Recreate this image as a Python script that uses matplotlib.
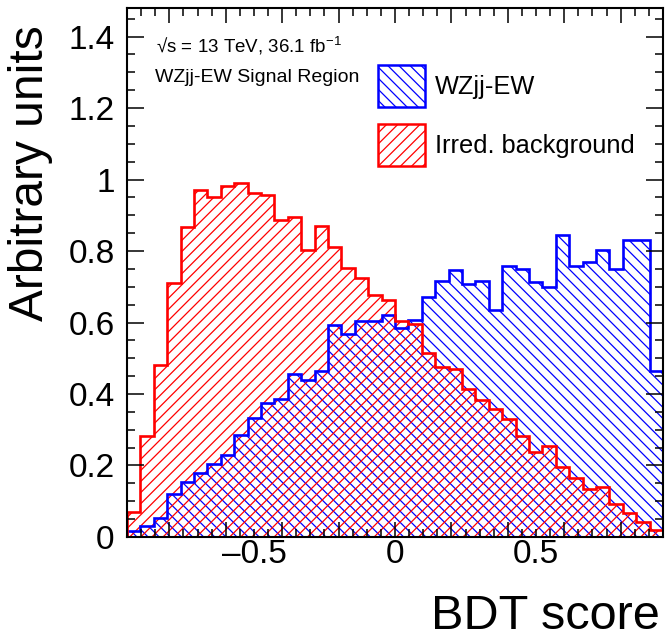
# WZjj-EW vs irreducible background, BDT score shapes (ROOT-style hatched histos)

import matplotlib
matplotlib.use("Agg")
import matplotlib.pyplot as plt
import numpy as np
from matplotlib.patches import Patch
from matplotlib.ticker import MultipleLocator, FuncFormatter

plt.rcParams["font.family"] = ["Liberation Sans", "DejaVu Sans"]
plt.rcParams["mathtext.fontset"] = "custom"
plt.rcParams["mathtext.rm"] = "Liberation Sans"
plt.rcParams["mathtext.it"] = "Liberation Sans:italic"
plt.rcParams["hatch.linewidth"] = 0.9

# binning: 40 bins over the BDT range
x_lo, x_hi, n_bins = -0.95, 0.95, 40

signal = [0.016, 0.032, 0.054, 0.119, 0.154, 0.178, 0.203, 0.228, 0.285, 0.333,
          0.375, 0.385, 0.457, 0.439, 0.465, 0.594, 0.569, 0.604, 0.604, 0.622,
          0.585, 0.606, 0.672, 0.716, 0.746, 0.708, 0.717, 0.636, 0.757, 0.751,
          0.714, 0.699, 0.846, 0.757, 0.770, 0.802, 0.750, 0.830, 0.832, 0.464]
irred = [0.069, 0.282, 0.480, 0.711, 0.867, 0.970, 0.952, 0.981, 0.991, 0.961,
         0.958, 0.888, 0.895, 0.804, 0.869, 0.812, 0.752, 0.724, 0.678, 0.662,
         0.604, 0.597, 0.515, 0.475, 0.469, 0.415, 0.382, 0.357, 0.331, 0.282,
         0.237, 0.254, 0.195, 0.164, 0.133, 0.139, 0.091, 0.068, 0.041, 0.019]
labels = ["WZjj-EW", "Irred. background"]
colors = ["blue", "red"]
hatches = ["\\\\\\", "///"]
xtick_labels = [-0.5, 0.0, 0.5]

edges = np.linspace(x_lo, x_hi, n_bins + 1)
centers = 0.5 * (edges[1:] + edges[:-1])
width = edges[1] - edges[0]

fig = plt.figure(figsize=(6.66, 6.42), dpi=100)
ax = fig.add_axes([0.1907, 0.1636, 0.8048, 0.824])

series = [signal, irred]
for vals, c, h in zip(series, colors, hatches):
    ax.bar(centers, vals, width=width, facecolor="none", edgecolor=c,
           linewidth=0, hatch=h)
for vals, c in zip(series, colors):
    ax.stairs(vals, edges, baseline=0, color=c, linewidth=1.9)

ax.set_xlim(x_lo, x_hi)
ax.set_ylim(0, 1.48)

for s in ax.spines.values():
    s.set_linewidth(1.5)

ax.yaxis.set_major_locator(MultipleLocator(0.2))
ax.yaxis.set_minor_locator(MultipleLocator(0.05))
ax.yaxis.set_major_formatter(FuncFormatter(lambda v, p: f"{v:g}"))
ax.xaxis.set_major_locator(MultipleLocator(0.2))
ax.xaxis.set_minor_locator(MultipleLocator(0.05))
ax.xaxis.set_major_formatter(FuncFormatter(lambda v, p: ""))
ax.tick_params(which="both", direction="in", top=True, right=True, width=1.1)
ax.tick_params(axis="y", which="major", length=12, labelsize=24, pad=9)
ax.tick_params(axis="y", which="minor", length=6)
ax.tick_params(axis="x", which="major", length=11)
ax.tick_params(axis="x", which="minor", length=5.5)

for v in xtick_labels:
    txt = f"{v:g}".replace("-", "\u2013")
    ax.text(v, -0.004, txt, transform=ax.get_xaxis_transform(),
            ha="center", va="top", fontsize=24)

ax.set_ylabel("Arbitrary units", fontsize=34.5, loc="top")
ax.yaxis.set_label_coords(-0.138, 0.968)
ax.set_xlabel("BDT score", fontsize=35, loc="right")
ax.xaxis.set_label_coords(0.994, -0.1076)

ax.text(0.054, 0.915, "\u221as = 13 TeV, 36.1 fb$^{-1}$", transform=ax.transAxes,
        fontsize=13.5, ha="left", va="baseline")
ax.text(0.052, 0.86, "WZjj-EW Signal Region", transform=ax.transAxes,
        fontsize=14, ha="left", va="baseline")

handles = [Patch(facecolor="none", edgecolor=c, hatch=h, linewidth=1.8)
           for c, h in zip(colors, hatches)]
ax.legend(handles, labels, loc="upper left", bbox_to_anchor=(378 / 666, 1 - 65 / 642),
          bbox_transform=fig.transFigure, frameon=False, fontsize=18.3,
          handlelength=1.85, handleheight=2.15, labelspacing=0.67,
          handletextpad=0.4, borderpad=0, borderaxespad=0)

fig.savefig("out.png", dpi=100)
